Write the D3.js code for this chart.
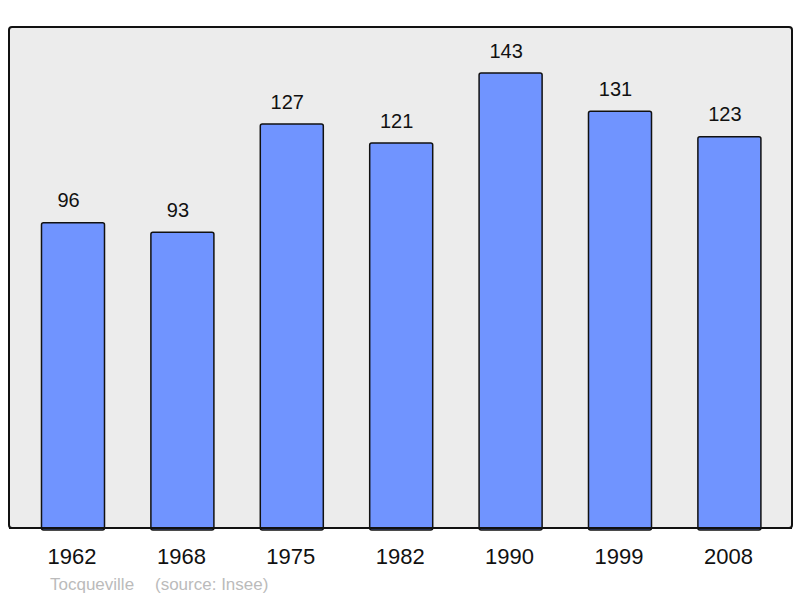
<!DOCTYPE html>
<html>
<head>
<meta charset="utf-8">
<script src="https://d3js.org/d3.v7.min.js"></script>
<style>
  body { margin: 0; background: #fff; }
  text { font-family: "Liberation Sans", Arial, sans-serif; }
</style>
</head>
<body>
<div id="chart"></div>
<script>
var years = ["1962", "1968", "1975", "1982", "1990", "1999", "2008"];
var population = [96, 93, 127, 121, 143, 131, 123];
var townName = "Tocqueville";
var sourceText = "(source: Insee)";

var width = 800, height = 598;
var frame = {left: 9, top: 27, right: 792, bottom: 528};

var svg = d3.select("#chart").append("svg")
    .attr("width", width)
    .attr("height", height);

// plot background
svg.append("rect")
    .attr("x", frame.left)
    .attr("y", frame.top)
    .attr("width", frame.right - frame.left)
    .attr("height", frame.bottom - frame.top)
    .attr("rx", 3)
    .attr("fill", "#ececec")
    .attr("stroke", "#111")
    .attr("stroke-width", 2);

var x = d3.scaleBand()
    .domain(years)
    .range([18.3, 784.1])
    .paddingInner(0.424)
    .paddingOuter(0.212);

var y = d3.scaleLinear()
    .domain([0, 157.5])
    .range([frame.bottom, frame.top]);

var data = years.map(function(d, i) { return {year: d, value: population[i]}; });

svg.selectAll(".bar")
    .data(data)
    .enter().append("rect")
    .attr("class", "bar")
    .attr("x", function(d) { return x(d.year); })
    .attr("y", function(d) { return y(d.value); })
    .attr("width", x.bandwidth())
    .attr("height", function(d) { return y(0) - y(d.value) + 2; })
    .attr("rx", 2)
    .attr("fill", "#7094ff")
    .attr("stroke", "#111")
    .attr("stroke-width", 1.5);

// redraw the bottom edge of the frame over the bars
svg.append("line")
    .attr("x1", frame.left)
    .attr("x2", frame.right)
    .attr("y1", frame.bottom)
    .attr("y2", frame.bottom)
    .attr("stroke", "#111")
    .attr("stroke-width", 2);

svg.selectAll(".val")
    .data(data)
    .enter().append("text")
    .attr("class", "val")
    .attr("x", function(d) { return x(d.year) + x.bandwidth() / 2 - 4.5; })
    .attr("y", function(d) { return y(d.value) - 15.5; })
    .attr("text-anchor", "middle")
    .attr("font-size", 20)
    .attr("fill", "#111")
    .text(function(d) { return d.value; });

svg.selectAll(".year")
    .data(years)
    .enter().append("text")
    .attr("class", "year")
    .attr("x", function(d) { return x(d) + x.bandwidth() / 2 - 1; })
    .attr("y", 564)
    .attr("text-anchor", "middle")
    .attr("font-size", 22)
    .attr("fill", "#111")
    .text(function(d) { return d; });

svg.append("text")
    .attr("x", 50)
    .attr("y", 590)
    .attr("font-size", 17)
    .attr("fill", "#bbb")
    .text(townName);

svg.append("text")
    .attr("x", 155)
    .attr("y", 590)
    .attr("font-size", 17)
    .attr("fill", "#bbb")
    .text(sourceText);
</script>
</body>
</html>
